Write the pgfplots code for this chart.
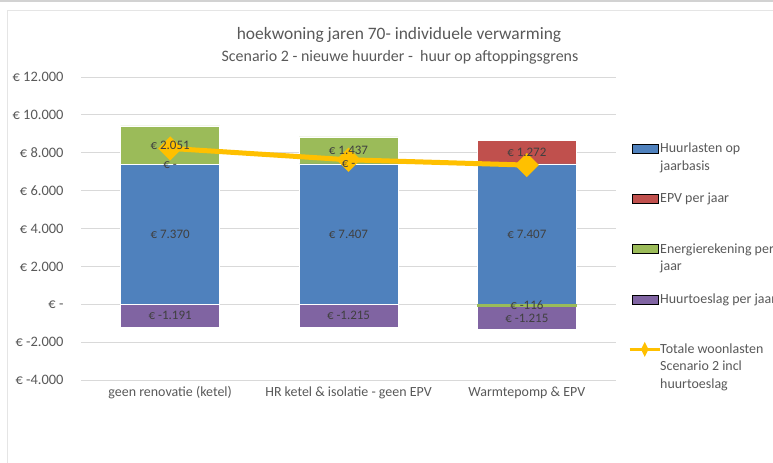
\documentclass[border=0pt]{standalone}
\usepackage{fontspec}
\setmainfont{Carlito}
\usepackage{pgfplots}
\usepackage{pgfplotstable}
\pgfplotsset{compat=1.18}

\definecolor{cBlue}{HTML}{4F81BD}
\definecolor{cRed}{HTML}{C0504D}
\definecolor{cGreen}{HTML}{9BBB59}
\definecolor{cPurple}{HTML}{8064A2}
\definecolor{cGold}{HTML}{FFC000}
\definecolor{cText}{HTML}{595959}
\definecolor{cLab}{HTML}{404040}
\definecolor{cGrid}{HTML}{D9D9D9}

% 0 = geen renovatie, 1 = HR ketel, 2 = warmtepomp
\pgfplotstableread[col sep=comma]{
x,y,lab
0,7370,€ 7.370
1,7407,€ 7.407
2,7407,€ 7.407
}\huur
\pgfplotstableread[col sep=comma]{
x,y,lab
0,0,€ -
1,0,€ -
2,1272,€ 1.272
}\epv
\pgfplotstableread[col sep=comma]{
x,y,lab
0,2051,€ 2.051
1,1437,€ 1.437
2,0,
}\energiepos
\pgfplotstableread[col sep=comma]{
x,y,lab
0,0,
1,0,
2,-116,€ -116
}\energieneg
\pgfplotstableread[col sep=comma]{
x,y,lab
0,-1191,€ -1.191
1,-1215,€ -1.215
2,-1215,€ -1.215
}\toeslag
\pgfplotstableread[col sep=comma]{
x,y
0,8230
1,7629
2,7348
}\totaal

\pgfplotsset{
  swatch/.style={legend image code/.code={\fill[##1] (0bp,-0.5bp) rectangle (26bp,8.5bp);}},
  goldline/.style={legend image code/.code={%
    \draw[##1, line width=3bp, mark=none] (-2bp,4bp) -- (28bp,4bp);
    \fill[##1] (13bp,2bp) -- (14bp,4bp) -- (13bp,6bp) -- (12bp,4bp) -- cycle;}},
  frame/.style={
    scale only axis, width=535bp, height=303bp,
    at={(81bp,83bp)}, anchor=south west,
    xmin=-0.5, xmax=2.5, ymin=-4000, ymax=12000,
    clip=false,
  },
  bars/.style={frame, ybar stacked, bar width=99bp},
  labels/.style={bars, hide axis,
    point meta=explicit symbolic,
    nodes near coords={\pgfplotspointmeta},
    every node near coord/.style={font=\fontsize{13}{15}\selectfont, text=cLab,
      anchor=center, inner sep=0pt},
  },
  seg/.style={fill=#1, draw=white, line width=0.4bp},
  ghost/.style={fill=none, draw=none},
}

\begin{document}
\begin{tikzpicture}
\clip (0,0) rectangle (773bp,463bp);
\fill[white] (0,0) rectangle (773bp,463bp);
\draw[gray!35, line width=2bp] (0,462bp) -- (773bp,462bp);
\draw[gray!20, line width=0.8bp] (7bp,0) -- (7bp,453bp) -- (773bp,453bp);

\node[text=cText, font=\fontsize{17.5}{21}\selectfont] at (399bp,428bp)
  {hoekwoning jaren 70- individuele verwarming};
\node[text=cText, font=\fontsize{16}{19}\selectfont] at (400bp,406bp)
  {Scenario 2 - nieuwe huurder -\ \ huur op aftoppingsgrens};

% positieve delen
\begin{axis}[bars,
  axis line style={draw=none},
  major tick style={draw=none},
  ymajorgrids, grid style={cGrid, line width=0.8bp},
  scaled y ticks=false,
  ytick={-4000,-2000,0,2000,4000,6000,8000,10000,12000},
  yticklabels={€ -4.000, € -2.000, € -, € 2.000, € 4.000, € 6.000, € 8.000, € 10.000, € 12.000},
  xtick={0,1,2},
  xticklabels={geen renovatie (ketel), HR ketel \& isolatie - geen EPV, Warmtepomp \& EPV},
  ticklabel style={font=\fontsize{14}{16}\selectfont, text=cText},
  yticklabel style={font=\fontsize{14.5}{16}\selectfont, xshift=-14bp},
  xticklabel style={yshift=-3bp},
]
\addplot[seg=cBlue] table[x=x, y=y] {\huur};
\addplot[seg=cRed] table[x=x, y=y] {\epv};
\addplot[seg=cGreen] table[x=x, y=y] {\energiepos};
\end{axis}

% negatieve delen
\begin{axis}[bars, hide axis]
\addplot[fill=cGreen, draw=cGreen, line width=0.4bp] table[x=x, y=y] {\energieneg};
\addplot[seg=cPurple] table[x=x, y=y] {\toeslag};
\end{axis}

% totaallijn en legenda
\begin{axis}[frame, hide axis,
  legend style={at={(1.0225,0.789)}, anchor=north west, draw=none, fill=none,
    inner sep=0pt, row sep=35bp, column sep=-3bp,
    font=\fontsize{14}{17.5}\selectfont, text=cText,
    cells={anchor=base west, inner sep=0pt}},
]
\addlegendimage{swatch, fill=cBlue}
\addlegendentry{\parbox[t]{130bp}{Huurlasten op\\jaarbasis}}
\addlegendimage{swatch, fill=cRed}
\addlegendentry{\parbox[t]{130bp}{EPV per jaar}}
\addlegendimage{swatch, fill=cGreen}
\addlegendentry{\parbox[t]{130bp}{Energierekening per\\jaar}}
\addlegendimage{swatch, fill=cPurple}
\addlegendentry{\parbox[t]{130bp}{Huurtoeslag per jaar}}
\addplot[cGold, line width=5bp, mark=diamond*, mark size=8.5bp,
  mark options={xscale=1.3333}, goldline] table[x=x, y=y] {\totaal};
\addlegendentry{\parbox[t]{130bp}{Totale woonlasten\\Scenario 2 incl\\huurtoeslag}}
\end{axis}

% gegevenslabels bovenop alles (nulwaarden krijgen een heel klein balkje
% zodat pgfplots er toch een label bij zet)
\begin{axis}[labels]
\addplot[ghost] table[x=x, y=y, meta=lab] {\huur};
\addplot[ghost, y filter/.expression={y==0 ? 0.01 : y}] table[x=x, y=y, meta=lab] {\epv};
\addplot[ghost] table[x=x, y=y, meta=lab] {\energiepos};
\end{axis}
\begin{axis}[labels]
\addplot[ghost] table[x=x, y=y, meta=lab] {\energieneg};
\addplot[ghost] table[x=x, y=y, meta=lab] {\toeslag};
\end{axis}
\end{tikzpicture}
\end{document}
